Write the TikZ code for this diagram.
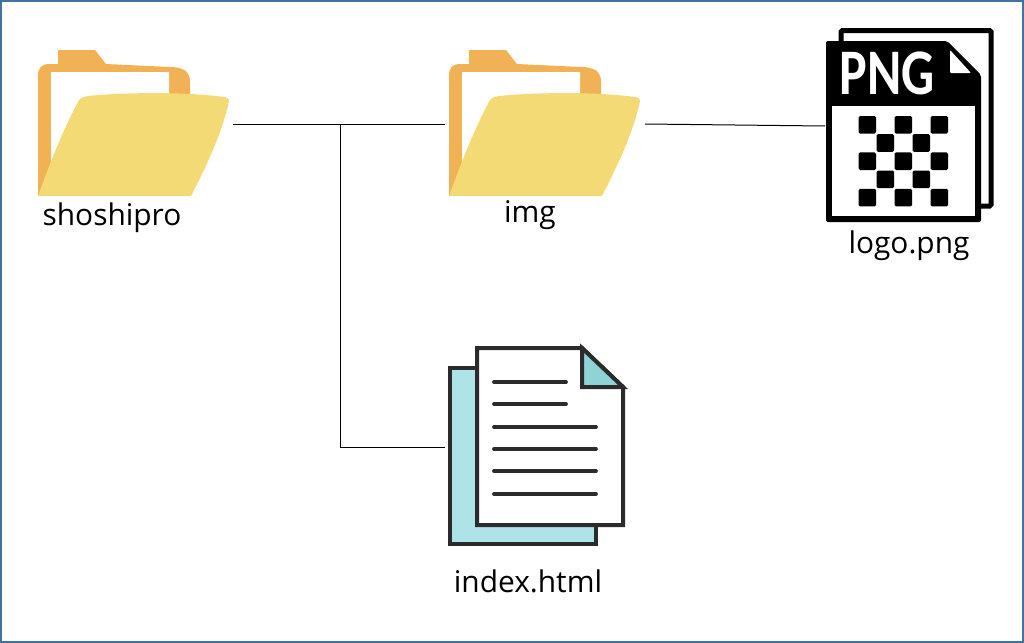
\documentclass[tikz,border=0pt]{standalone}
\usepackage{fontspec}
\setmainfont{Open Sans}
\newfontfamily\pngfont{Carlito}
\definecolor{frameblue}{HTML}{41719C}
\definecolor{folderback}{HTML}{F0B254}
\definecolor{folderfront}{HTML}{F4DA75}
\definecolor{pagecyan}{HTML}{AEE4E8}
\definecolor{foldcyan}{HTML}{8FD3D6}
\definecolor{pageline}{HTML}{2B2B2B}
\tikzset{
	pics/folderpic/.style={code={
		\fill [folderback] (0,196) -- (0,76) .. controls (0,68) and (3,64) .. (12,64)
			-- (20,64) -- (20,50) -- (57,50) -- (68,64) -- (132,67)
			.. controls (146,67) and (152,72) .. (152,82) -- (152,100) -- (13,180) -- cycle;
		\fill [white] (13,72) -- (131,72) -- (131,100) -- (13,170) -- cycle;
		\fill [folderfront] (0,196) .. controls (12,163) and (25,130) .. (40,102)
			.. controls (42,98) and (44,97) .. (50,96)
			.. controls (90,92) and (150,92) .. (186,97)
			.. controls (191,98) and (191,99) .. (191,101)
			.. controls (185,130) and (170,163) .. (153,196) -- cycle;
	}}
}
\begin{document}
\begin{tikzpicture}[
	x=0.2mm,y=-0.2mm,
	iconbox/.style={rectangle,minimum width=#1,minimum height=140*0.2mm,inner sep=0pt,outer sep=0pt},
	iconbox/.default=200*0.2mm,
	connector/.style={draw=black,line width=0.2mm},
	caption/.style={font=\fontsize{17}{17}\selectfont,text=black,inner sep=0pt},
	pageedge/.style={draw=pageline,line width=0.8mm,line join=miter},
	textline/.style={draw=pageline,line width=0.75mm,line cap=round}
	]
	\path [use as bounding box] (0,0) rectangle (1024,643);
	\draw [frameblue,line width=0.4mm] (1,1) rectangle (1023,642);
	% FOLDERS
	\pic at (38,0) {folderpic};
	\pic at (449,0) {folderpic};
	% PNG FILE
	\draw [black,line width=1mm,fill=white,rounded corners=0.3mm] (841,30.5) rectangle (991,206);
	\fill [black,rounded corners=0.4mm] (826,41) -- (947,41) -- (981,75) -- (981,222) -- (826,222) -- cycle;
	\fill [white] (832,106) rectangle (975,216);
	\fill [white,rounded corners=0.2mm] (950,50) -- (971,73) -- (950,73) -- cycle;
	\node [font=\fontsize{37}{37}\selectfont\pngfont\bfseries,text=white,inner sep=0pt,xscale=0.8] (pngtext) at (887,73) {PNG};
	\foreach \col in {0,...,4}
		\foreach \row in {0,...,4} {
			\pgfmathparse{int(mod(\col+\row,2))}
			\ifnum\pgfmathresult=0
				\fill [black,rounded corners=0.3mm] (858.5+18*\col,116+18.2*\row) rectangle +(17.6,17.6);
			\fi
		}
	% HTML FILE
	\draw [pageedge,fill=pagecyan] (450,368) rectangle (596,544);
	\draw [pageedge,fill=white] (477,348) -- (582,348) -- (623,387) -- (623,525) -- (477,525) -- cycle;
	\draw [pageedge,fill=foldcyan] (582,348) -- (623,387) -- (582,387) -- cycle;
	\foreach \y/\xend in {382/566,404/566,427/596,449/596,471/596,494/596}
		\draw [textline] (494,\y) -- (\xend,\y);
	% NAMES
	\node [iconbox=195*0.2mm] (shoshipro) at (135.5,124) {};
	\node [iconbox] (img) at (545,124) {};
	\node [iconbox=168*0.2mm] (logo) at (909,126) {};
	\node [iconbox=180*0.2mm] (index) at (535,447) {};
	\coordinate (branch) at (340,124);
	\draw [connector] (shoshipro.east) -- (img.west);
	\draw [connector] (img.east) -- (logo.west);
	\draw [connector] (branch) |- (index.west);
	\node [caption] (shoshiproname) at (112,218) {shoshipro};
	\node [caption] (imgname) at (530,215) {img};
	\node [caption] (logoname) at (909,246) {logo.png};
	\node [caption] (indexname) at (528,581) {index.html};
\end{tikzpicture}
\end{document}
